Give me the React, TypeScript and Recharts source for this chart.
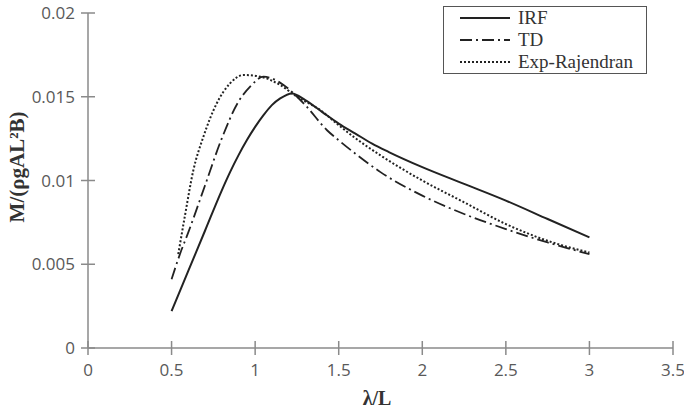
import { LineChart, Line, XAxis, YAxis, Legend, Label } from "recharts";

// λ/L sample positions and moment values
const irfX = [0.5, 0.6, 0.7, 0.8, 0.85, 0.9, 0.95, 1.0, 1.05, 1.1, 1.15, 1.22, 1.3, 1.4, 1.5, 1.6, 1.7, 1.8, 2.0, 2.25, 2.5, 2.75, 3.0];
const irfY = [0.0022, 0.0046, 0.007, 0.0094, 0.0105, 0.0115, 0.0124, 0.0132, 0.0139, 0.0145, 0.0149, 0.0152, 0.0148, 0.0141, 0.0134, 0.0128, 0.0122, 0.0117, 0.0108, 0.0098, 0.0088, 0.0077, 0.0066];

const tdX = [0.5, 0.55, 0.6, 0.7, 0.8, 0.9, 0.97, 1.05, 1.1, 1.17, 1.3, 1.43, 1.5, 1.6, 1.75, 2.0, 2.25, 2.5, 2.75, 3.0];
const tdY = [0.0041, 0.0056, 0.0069, 0.0097, 0.0125, 0.0147, 0.0156, 0.0162, 0.0161, 0.0157, 0.0145, 0.013, 0.0124, 0.0116, 0.0105, 0.0091, 0.008, 0.0071, 0.0063, 0.0056];

const expX = [0.54, 0.58, 0.63, 0.69, 0.77, 0.85, 0.93, 1.03, 1.15, 1.25, 1.39, 1.5, 1.59, 1.75, 2.0, 2.25, 2.5, 2.75, 3.0];
const expY = [0.0056, 0.0079, 0.0106, 0.0126, 0.0146, 0.0158, 0.0163, 0.0162, 0.0157, 0.015, 0.0142, 0.0133, 0.0126, 0.0115, 0.01, 0.0087, 0.0074, 0.0064, 0.0057];

const xTicks = [0, 0.5, 1, 1.5, 2, 2.5, 3, 3.5];
const yTicks = [0, 0.005, 0.01, 0.015, 0.02];

const toPts = (xs: number[], ys: number[]) => xs.map((x, i) => ({ x, y: ys[i] }));

const series = [
  { name: "IRF", data: toPts(irfX, irfY), dash: undefined as string | undefined, width: 2 },
  { name: "TD", data: toPts(tdX, tdY), dash: "12 4 2 4", width: 1.8 },
  { name: "Exp-Rajendran", data: toPts(expX, expY), dash: "2 2", width: 2 },
];

const axisColor = "#8a8a8a";
const tickFont = { fontFamily: "'Open Sans', sans-serif", fontSize: 17, fill: "#595959" };

function YTick(p: any) {
  return (
    <g>
      <line x1={p.x - 7} x2={p.x + 7} y1={p.y} y2={p.y} stroke={axisColor} strokeWidth={1.5} />
      <text x={p.x - 13} y={p.y} dy={6} textAnchor="end" {...tickFont}>
        {p.payload.value}
      </text>
    </g>
  );
}

function XTick(p: any) {
  return (
    <g>
      <line x1={p.x} x2={p.x} y1={p.y - 7} y2={p.y + 7} stroke={axisColor} strokeWidth={1.5} />
      <text x={p.x} y={p.y + 28} textAnchor="middle" {...tickFont}>
        {p.payload.value}
      </text>
    </g>
  );
}

function LegendBox() {
  return (
    <div
      style={{
        border: "1.5px solid #555",
        width: 204,
        height: 68,
        boxSizing: "border-box",
        padding: "0 0 0 15px",
        fontFamily: "'Liberation Serif', serif",
        fontSize: 19,
        color: "#333",
      }}
    >
      {series.map((s) => (
        <div key={s.name} style={{ display: "flex", alignItems: "center", height: 22 }}>
          <svg width={52} height={10} style={{ marginRight: 7 }}>
            <line x1={1} x2={51} y1={5} y2={5} stroke="#222" strokeWidth={2} strokeDasharray={s.dash} />
          </svg>
          <span style={{ lineHeight: "22px" }}>{s.name}</span>
        </div>
      ))}
    </div>
  );
}

export default function App() {
  return (
    <div style={{ position: "absolute", left: 0, top: 0, background: "#fff" }}>
      <LineChart width={684} height={414} margin={{ top: 13, right: 11, left: 28, bottom: 0 }}>
        <XAxis
          type="number"
          dataKey="x"
          domain={[0, 3.5]}
          ticks={xTicks}
          allowDuplicatedCategory={false}
          height={66}
          stroke={axisColor}
          strokeWidth={1.5}
          tickLine={false}
          tickSize={0}
          tickMargin={0}
          tick={<XTick />}
        >
          <Label
            content={() => (
              <text x={377} y={405} textAnchor="middle" fontFamily="'Liberation Serif', serif" fontWeight="bold" fontSize={20} fill="#333">
                λ/L
              </text>
            )}
          />
        </XAxis>
        <YAxis
          type="number"
          dataKey="y"
          domain={[0, 0.02]}
          ticks={yTicks}
          width={60}
          stroke={axisColor}
          strokeWidth={1.5}
          tickLine={false}
          tickSize={0}
          tickMargin={0}
          tick={<YTick />}
        >
          <Label
            content={() => (
              <text
                x={24}
                y={167}
                transform="rotate(-90 24 167)"
                textAnchor="middle"
                fontFamily="'Liberation Serif', serif"
                fontWeight="bold"
                fontSize={21}
                fill="#333"
              >
                M/(ρgAL²B)
              </text>
            )}
          />
        </YAxis>
        <Legend
          layout="vertical"
          align="center"
          verticalAlign="middle"
          content={() => <LegendBox />}
          wrapperStyle={{ left: 443, top: 6, width: 204 }}
        />
        {series.map((s) => (
          <Line
            key={s.name}
            name={s.name}
            data={s.data}
            dataKey="y"
            type="monotone"
            stroke="#222"
            strokeWidth={s.width}
            strokeDasharray={s.dash}
            dot={false}
            isAnimationActive={false}
          />
        ))}
      </LineChart>
    </div>
  );
}
